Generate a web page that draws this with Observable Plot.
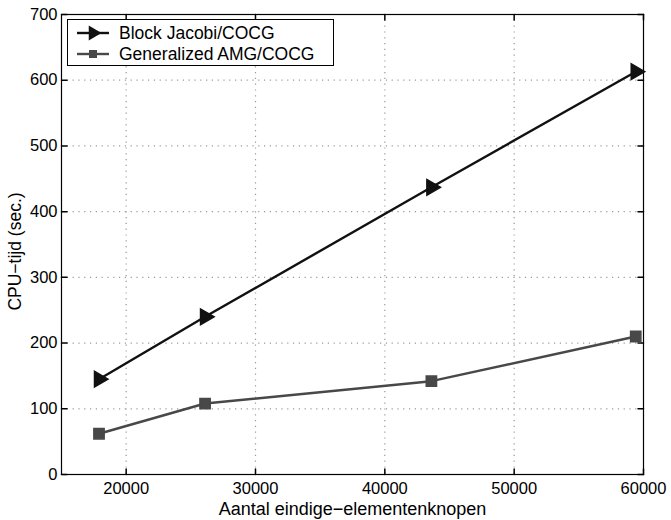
<!DOCTYPE html>
<html><head><meta charset="utf-8">
<script src="https://cdn.jsdelivr.net/npm/d3@7"></script>
<script src="https://cdn.jsdelivr.net/npm/@observablehq/plot@0.6"></script>
<style>
body{margin:0;background:#fff;font-family:"Liberation Sans",Arial,Helvetica,sans-serif}
#wrap{position:relative;width:671px;height:520px}
#legend{position:absolute;left:67px;top:19px;width:265px;height:45px;border:1px solid #000;background:#fff;font-size:17.5px;color:#000}
#legend .row{position:absolute;left:0;height:22px;display:flex;align-items:center;white-space:nowrap}
#legend svg{display:block}
#legend span{margin-left:10px}
</style>
</head><body><div id="wrap"></div>
<script>
const nodes = [17900, 26100, 43600, 59400];
const jacobi = [145, 240, 437, 613];
const amg = [62, 108, 142, 210];
const seriesNames = ["Block Jacobi/COCG", "Generalized AMG/COCG"];
const seriesColors = ["#111111", "#484848"];
const xTicks = [20000, 30000, 40000, 50000, 60000];
const yTicks = [0, 100, 200, 300, 400, 500, 600, 700];
const xLabel = "Aantal eindige\u2212elementenknopen";
const yLabel = "CPU\u2212tijd (sec.)";

const dataJ = nodes.map((x, i) => ({x, y: jacobi[i]}));
const dataA = nodes.map((x, i) => ({x, y: amg[i]}));

const tickShape = {draw(ctx, l) { ctx.moveTo(0, 0); ctx.lineTo(0, -l); }};
const TL = 5.5;

const chart = Plot.plot({
  width: 671, height: 520,
  marginLeft: 61, marginRight: 28, marginTop: 14, marginBottom: 46,
  style: {fontFamily: '"Liberation Sans", Arial, Helvetica, sans-serif', fontSize: "16px", color: "#000", background: "#fff"},
  x: {domain: [15000, 60000]},
  y: {domain: [0, 700]},
  marks: [
    Plot.gridX(xTicks.filter(d => d < 60000), {stroke: "#999", strokeOpacity: 1, strokeWidth: 1.2, strokeDasharray: "1.2,4.6"}),
    Plot.gridY(yTicks.filter(d => d > 0 && d < 700), {stroke: "#999", strokeOpacity: 1, strokeWidth: 1.2, strokeDasharray: "1.2,4.6"}),
    Plot.axisX(xTicks, {tickSize: 0, tickPadding: 8, tickFormat: d3.format("d"), fontSize: 16.5, label: null}),
    Plot.axisX({ticks: [], tickSize: 0, label: xLabel, labelAnchor: "center", labelArrow: "none", labelOffset: 40, fontSize: 18}),
    Plot.axisY(yTicks, {tickSize: 0, tickPadding: 4, tickFormat: d3.format("d"), fontSize: 16.5, label: null}),
    Plot.text([yLabel], {text: d => d, frameAnchor: "left", rotate: -90, dx: -46, dy: 7, fontSize: 17.5, textAnchor: "middle"}),
    Plot.vector(xTicks, {x: d => d, y: 0, length: TL, rotate: 0, anchor: "start", shape: tickShape, stroke: "#000"}),
    Plot.vector(xTicks, {x: d => d, y: 700, length: TL, rotate: 180, anchor: "start", shape: tickShape, stroke: "#000"}),
    Plot.vector(yTicks, {x: 15000, y: d => d, length: TL, rotate: 90, anchor: "start", shape: tickShape, stroke: "#000"}),
    Plot.vector(yTicks, {x: 60000, y: d => d, length: TL, rotate: -90, anchor: "start", shape: tickShape, stroke: "#000"}),
    Plot.frame({stroke: "#000", strokeWidth: 1.2}),
    Plot.line(dataJ, {x: "x", y: "y", stroke: seriesColors[0], strokeWidth: 2.4}),
    Plot.dot(dataJ, {x: "x", y: "y", symbol: "triangle", r: 5.8, rotate: 90, fill: seriesColors[0], stroke: seriesColors[0]}),
    Plot.line(dataA, {x: "x", y: "y", stroke: seriesColors[1], strokeWidth: 2.4}),
    Plot.dot(dataA, {x: "x", y: "y", symbol: "square", r: 5.8, fill: seriesColors[1], stroke: seriesColors[1]})
  ]
});
const wrap = document.getElementById("wrap");
wrap.appendChild(chart);

const legend = document.createElement("div");
legend.id = "legend";
const syms = ["triangle", "square"];
seriesNames.forEach((name, i) => {
  const row = document.createElement("div");
  row.className = "row";
  row.style.top = (2 + i * 21) + "px";
  row.style.left = "9px";
  const s = d3.create("svg").attr("width", 32).attr("height", 22);
  s.append("line").attr("x1", 0).attr("x2", 32).attr("y1", 11).attr("y2", 11).attr("stroke", seriesColors[i]).attr("stroke-width", 2.4);
  const sym = syms[i] === "triangle" ? d3.symbol(d3.symbolTriangle, Math.PI * 30) : d3.symbol(d3.symbolSquare, 64);
  s.append("path").attr("d", sym()).attr("transform", syms[i] === "triangle" ? "translate(16,11) rotate(90)" : "translate(16,11)").attr("fill", seriesColors[i]);
  row.appendChild(s.node());
  const t = document.createElement("span");
  t.textContent = name;
  row.appendChild(t);
  legend.appendChild(row);
});
wrap.appendChild(legend);
</script>
</body></html>
